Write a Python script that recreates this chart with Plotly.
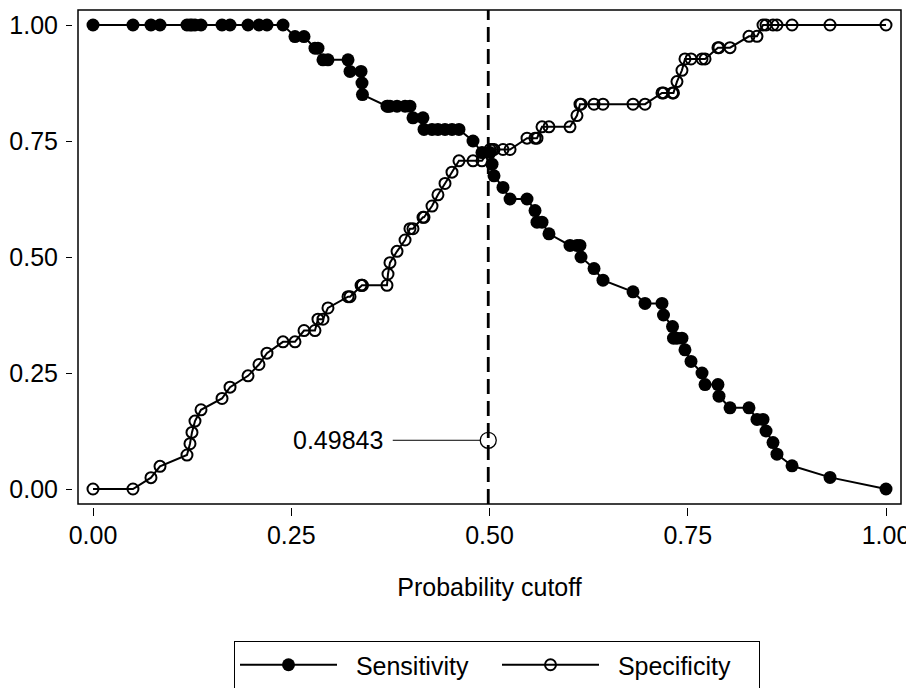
import plotly.graph_objects as go

# ---- data (Stata lsens-style plot) ----
cutoff = [0.0000, 0.0504, 0.0731, 0.0845, 0.1185, 0.1223, 0.1248, 0.1286, 0.1362, 0.1627,
          0.1728, 0.1955, 0.2093, 0.2194, 0.2396, 0.2547, 0.2661, 0.2799, 0.2837, 0.2900,
          0.2963, 0.3216, 0.3241, 0.3380, 0.3392, 0.3398, 0.3707, 0.3720, 0.3745, 0.3834,
          0.3935, 0.3997, 0.4035, 0.4161, 0.4174, 0.4275, 0.4350, 0.4439, 0.4527, 0.4615,
          0.4792, 0.4905, 0.5006, 0.5032, 0.5057, 0.5170, 0.5259, 0.5473, 0.5574, 0.5599,
          0.5662, 0.5750, 0.6015, 0.6103, 0.6141, 0.6154, 0.6318, 0.6431, 0.6810, 0.6961,
          0.7175, 0.7194, 0.7308, 0.7320, 0.7364, 0.7427, 0.7465, 0.7541, 0.7680, 0.7718,
          0.7881, 0.7894, 0.8033, 0.8272, 0.8373, 0.8449, 0.8487, 0.8575, 0.8625, 0.8815,
          0.9294, 1.0000]

sensitivity = [1, 1, 1, 1, 1, 1, 1, 1, 1, 1,
               1, 1, 1, 1, 1, 0.975, 0.975, 0.95, 0.95, 0.925,
               0.925, 0.925, 0.9, 0.9, 0.875, 0.85, 0.825, 0.825, 0.825, 0.825,
               0.825, 0.825, 0.8, 0.8, 0.775, 0.775, 0.775, 0.775, 0.775, 0.775,
               0.75, 0.725, 0.725, 0.70, 0.675, 0.65, 0.625, 0.625, 0.60, 0.575,
               0.575, 0.55, 0.525, 0.525, 0.525, 0.50, 0.475, 0.45, 0.425, 0.40,
               0.40, 0.375, 0.35, 0.325, 0.325, 0.325, 0.30, 0.275, 0.25, 0.225,
               0.225, 0.20, 0.175, 0.175, 0.15, 0.15, 0.125, 0.10, 0.075, 0.05,
               0.025, 0.0]

specificity = [0.0, 0.0, 0.0244, 0.0488, 0.0732, 0.0976, 0.1220, 0.1463, 0.1707, 0.1951,
               0.2195, 0.2439, 0.2683, 0.2927, 0.3171, 0.3171, 0.3415, 0.3415, 0.3659, 0.3659,
               0.3902, 0.4146, 0.4146, 0.4390, 0.4390, 0.4390, 0.4390, 0.4634, 0.4878, 0.5122,
               0.5366, 0.5610, 0.5610, 0.5854, 0.5854, 0.6098, 0.6341, 0.6585, 0.6829, 0.7073,
               0.7073, 0.7073, 0.7317, 0.7317, 0.7317, 0.7317, 0.7317, 0.7561, 0.7561, 0.7561,
               0.7805, 0.7805, 0.7805, 0.8049, 0.8293, 0.8293, 0.8293, 0.8293, 0.8293, 0.8293,
               0.8537, 0.8537, 0.8537, 0.8537, 0.8780, 0.9024, 0.9268, 0.9268, 0.9268, 0.9268,
               0.9512, 0.9512, 0.9512, 0.9756, 0.9756, 1.0, 1.0, 1.0, 1.0, 1.0,
               1.0, 1.0]

optimal_cutoff = 0.49843
optimal_label = "0.49843"
label_y = 0.105

tick_vals = [0, 0.25, 0.5, 0.75, 1.0]
tick_text = ["0.00", "0.25", "0.50", "0.75", "1.00"]
series_names = ["Sensitivity", "Specificity"]
x_title = "Probability cutoff"

FONT = "Liberation Sans, Arial, Helvetica, sans-serif"
FS = 25
NBSP = "\u00a0"

# The page body adds an 8px margin, so the figure is drawn 8px smaller
# and every target below is given in screen pixels.
OFF = 8
W, H = 914 - OFF, 688 - OFF
L, R, T, B = 73, 906, 10, 507          # plot-area box (screen px)
X0PX, X1PX = 93, 886                   # screen px of x=0 and x=1
Y0PX, Y1PX = 489, 25                   # screen px of y=0 and y=1
FRAME = (78, 901, 10, 504)             # frame box (screen px)

xs = (X1PX - X0PX)
ys = (Y0PX - Y1PX)
xrange_ = [(L - X0PX) / xs, 1 + (R - X1PX) / xs]
yrange_ = [-(B - Y0PX) / ys, 1 + (Y1PX - T) / ys]

def px_to_paper_x(px):
    return (px - L) / (R - L)

def px_to_paper_y(py):
    return (B - py) / (B - T)

fig = go.Figure()
fig.add_trace(go.Scatter(
    x=cutoff, y=sensitivity, mode="lines+markers", name=NBSP * 2 + series_names[0],
    line=dict(color="black", width=2),
    marker=dict(symbol="circle", size=13, color="black"),
))
fig.add_trace(go.Scatter(
    x=cutoff, y=specificity, mode="lines+markers", name=NBSP * 2 + series_names[1],
    line=dict(color="black", width=2),
    marker=dict(symbol="circle-open", size=11, color="black", line=dict(width=2)),
))
fig.add_trace(go.Scatter(
    x=[optimal_cutoff], y=[label_y], mode="markers", showlegend=False, hoverinfo="skip",
    marker=dict(symbol="circle-open", size=16, color="black", line=dict(width=1.3)),
))

# frame
fig.add_shape(type="rect", xref="paper", yref="paper",
              x0=px_to_paper_x(FRAME[0]), x1=px_to_paper_x(FRAME[1]),
              y0=px_to_paper_y(FRAME[3]), y1=px_to_paper_y(FRAME[2]),
              line=dict(color="black", width=1.5), layer="below")
# dashed cutoff line
fig.add_shape(type="line", xref="x", yref="paper",
              x0=optimal_cutoff, x1=optimal_cutoff,
              y0=px_to_paper_y(FRAME[3]), y1=px_to_paper_y(FRAME[2]),
              line=dict(color="black", width=2.8, dash="15px,7px"), layer="below")

fig.add_annotation(x=optimal_cutoff, y=label_y, xref="x", yref="y",
                   text=optimal_label, showarrow=True, arrowhead=0, arrowwidth=1,
                   arrowcolor="black", ax=-150, ay=0, standoff=8, borderpad=9,
                   font=dict(family=FONT, size=FS, color="black"))

axis_common = dict(showgrid=False, zeroline=False, showline=False, ticks="outside",
                   tickcolor="black", tickwidth=1, automargin=False,
                   tickfont=dict(family=FONT, size=FS, color="black"),
                   tickvals=tick_vals, ticktext=tick_text)

fig.update_layout(
    width=W, height=H,
    margin=dict(l=L - OFF, r=W - (R - OFF), t=T - OFF, b=H - (B - OFF), pad=0, autoexpand=False),
    paper_bgcolor="white", plot_bgcolor="white",
    font=dict(family=FONT, size=FS, color="black"),
    xaxis=dict(range=xrange_, ticklen=8, ticklabelstandoff=-2,
               title=dict(text=x_title, font=dict(family=FONT, size=FS, color="black"),
                          standoff=30),
               **axis_common),
    yaxis=dict(range=yrange_, ticklen=6, ticklabelstandoff=3, **axis_common),
    showlegend=True,
    legend=dict(orientation="h", x=px_to_paper_x(234), xanchor="left",
                y=px_to_paper_y(641), yanchor="top",
                bordercolor="black", borderwidth=1, itemwidth=97, entrywidth=150,
                font=dict(family=FONT, size=FS, color="black"),
                traceorder="normal"),
)

fig.write_html("out.html")
